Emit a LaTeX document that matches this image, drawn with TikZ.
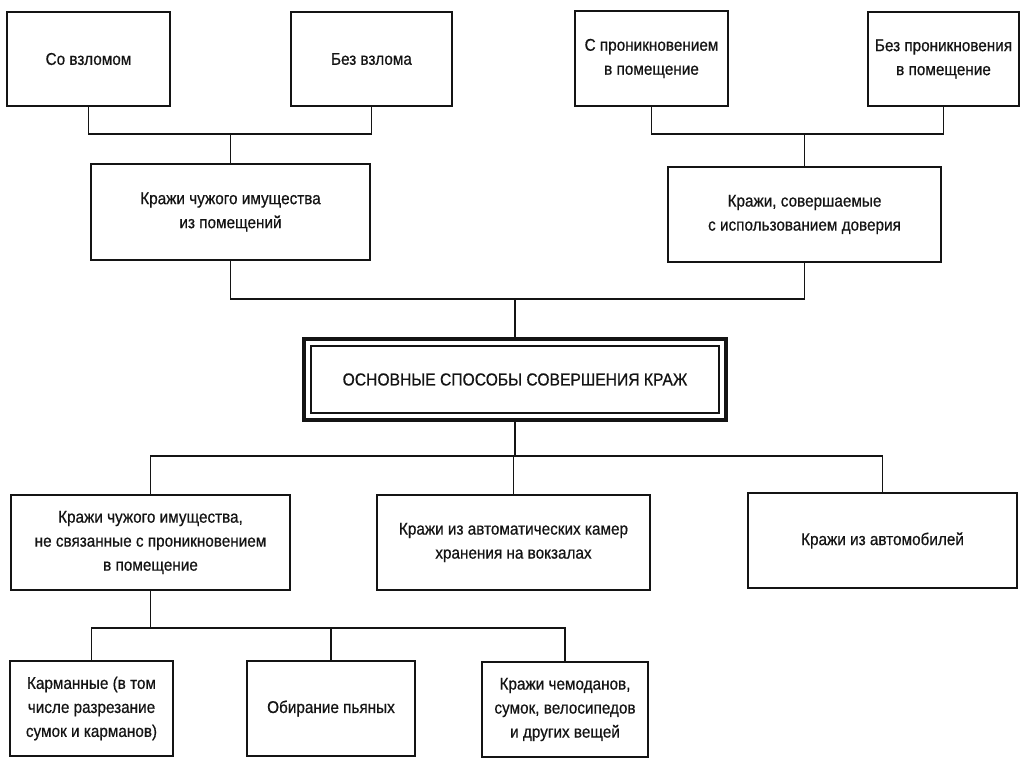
\documentclass[tikz,border=0pt]{standalone}
\usepackage{fontspec}
\newfontfamily\dfont{Liberation Sans}[FakeStretch=0.9,FakeBold=0.6]
\definecolor{ink}{HTML}{141414}
\begin{document}
\begin{tikzpicture}[x=1pt,y=-1pt,
  box/.style={draw=ink,line width=2.1pt,align=center,inner sep=0pt,
    font=\dfont\fontsize{17}{24}\selectfont,text=ink},
  link/.style={draw=ink,line width=1.8pt}]
\fill[white] (0,0) rectangle (1024,767);
\useasboundingbox (0,0) rectangle (1024,767);
% top row
\node[box,minimum width=163pt,minimum height=94pt] (A) at (88.5,59) {Со взломом};
\node[box,minimum width=161pt,minimum height=94pt] (B) at (371.5,59) {Без взлома};
\node[box,minimum width=153pt,minimum height=95pt] (C) at (651.5,58.5) {С проникновением\\в помещение};
\node[box,minimum width=151pt,minimum height=94pt] (D) at (943.5,59) {Без проникновения\\в помещение};
% second row
\node[box,minimum width=279pt,minimum height=96pt] (E) at (230.5,212) {Кражи чужого имущества\\из помещений};
\node[box,minimum width=273pt,minimum height=95pt] (F) at (804.5,214.5) {Кражи, совершаемые\\с использованием доверия};
% central
\node[box,line width=1.6pt,minimum width=408pt,minimum height=67pt,font=\dfont\fontsize{17.4}{24}\selectfont] (G) at (515,379.5) {ОСНОВНЫЕ СПОСОБЫ СОВЕРШЕНИЯ КРАЖ};
\draw[ink,line width=4.2pt] ([shift={(-6,-6)}]G.north west) rectangle ([shift={(6,6)}]G.south east);
% third row
\node[box,minimum width=279pt,minimum height=95pt] (H1) at (150.5,542.5) {Кражи чужого имущества,\\не связанные с проникновением\\в помещение};
\node[box,minimum width=273pt,minimum height=95pt] (H2) at (513.5,542.5) {Кражи из автоматических камер\\хранения на вокзалах};
\node[box,minimum width=269pt,minimum height=95pt] (H3) at (882.5,540.5) {Кражи из автомобилей};
% bottom row
\node[box,minimum width=163pt,minimum height=95pt] (K1) at (91.5,708.5) {Карманные (в том\\числе разрезание\\сумок и карманов)};
\node[box,minimum width=168pt,minimum height=95pt] (K2) at (331,708.5) {Обирание пьяных};
\node[box,minimum width=166pt,minimum height=95pt] (K3) at (565,709.5) {Кражи чемоданов,\\сумок, велосипедов\\и других вещей};
% connectors top-left
\path (E.north) ++(0,-29) coordinate (b1);
\draw[link] (A.south) |- (b1) -| (B.south);
\draw[link] (b1) -- (E.north);
% connectors top-right
\path (F.north) ++(0,-32) coordinate (b2);
\draw[link] (C.south) |- (b2) -| (D.south);
\draw[link] (b2) -- (F.north);
% to central
\coordinate (m1) at (515,299);
\draw[link] (E.south) |- (m1) -| (F.south);
\draw[link] (m1) -- ([yshift=6pt]G.north);
% from central
\coordinate (m2) at (515,456);
\draw[link] ([yshift=-6pt]G.south) -- (m2);
\draw[link] (H1.north) |- (m2) -| (H3.north);
\draw[link] (H2.north) -- (H2.north |- m2);
% lower
\path (H1.south) ++(0,37) coordinate (l1);
\draw[link] (H1.south) -- (l1);
\draw[link] (K1.north) |- (l1) -| (K3.north);
\draw[link] (K2.north) -- (K2.north |- l1);
\end{tikzpicture}
\end{document}
